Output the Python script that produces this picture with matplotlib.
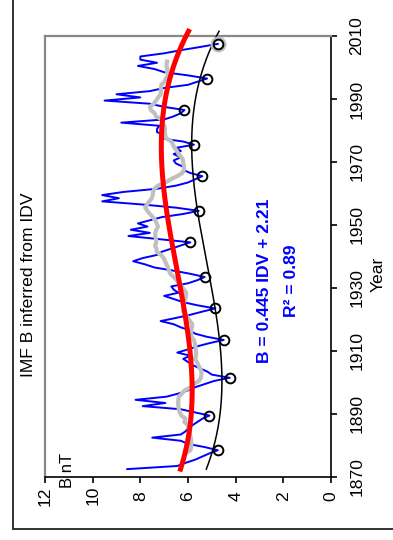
import numpy as np
import matplotlib
matplotlib.use('Agg')
import matplotlib.pyplot as plt
from matplotlib.lines import Line2D

plt.rcParams['font.family'] = ['Liberation Sans', 'DejaVu Sans']

# ---- data -------------------------------------------------------------
years = list(range(1872, 2008))
b_idv = [
    8.55, 6.45, 6.10, 5.70, 5.40, 5.10, 4.75, 5.30, 6.00, 6.30,   # 1872-1881
    7.50, 6.30, 6.10, 6.00, 5.80, 5.60, 5.40, 5.10, 5.70, 6.30,   # 1882-1891
    7.90, 6.95, 8.20, 6.90, 6.40, 6.00, 5.70, 5.30, 4.90, 4.25,   # 1892-1901
    5.00, 5.20, 5.50, 5.80, 6.00, 6.20, 5.90, 6.45, 6.00, 5.60,   # 1902-1911
    5.10, 4.50, 5.20, 5.70, 5.90, 6.30, 6.60, 7.15, 6.50, 5.90,   # 1912-1921
    5.40, 4.85, 5.60, 6.20, 6.60, 7.00, 6.40, 6.60, 6.70, 6.00,   # 1922-1931
    5.60, 5.30, 5.90, 6.60, 7.40, 7.80, 8.30, 7.90, 7.30, 7.10,   # 1932-1941
    6.70, 6.30, 5.90, 7.20, 8.50, 7.60, 8.40, 7.70, 8.10, 7.60,   # 1942-1951
    7.10, 6.20, 5.55, 6.50, 7.90, 9.60, 8.90, 9.60, 8.70, 7.30,   # 1952-1961
    6.50, 6.00, 5.70, 5.40, 5.90, 6.20, 6.20, 6.50, 6.60, 6.30,   # 1962-1971
    6.60, 6.30, 6.50, 5.75, 6.20, 7.15, 7.00, 7.30, 7.30, 7.20,   # 1972-1981
    8.80, 7.00, 6.60, 6.30, 6.15, 7.00, 7.60, 9.50, 8.00, 9.00,   # 1982-1991
    7.60, 7.00, 6.00, 5.60, 5.20, 6.00, 7.00, 7.40, 8.10, 7.30,   # 1992-2001
    8.00, 8.00, 7.00, 6.30, 5.50, 4.75,                           # 2002-2007
]
min_years = [1878, 1889, 1901, 1913, 1923, 1933, 1944, 1954, 1965, 1975, 1986, 1996, 2007]

# smooth trend of all years (red) and of the minima (black)
red_years = [1872.5, 1891.3, 1900.8, 1909.3, 1922.0, 1935.7, 1945.2, 1958.0, 1968.5, 1979.1, 1989.7, 2000.3, 2010.8]
red_vals = [6.39, 5.83, 5.72, 5.83, 6.10, 6.53, 6.87, 7.08, 7.10, 7.00, 6.80, 6.53, 6.18]
blk_years = [1872.5, 1878.6, 1889.5, 1900.8, 1913.3, 1923.3, 1933.6, 1940.5, 1944.5, 1954.4,
             1964.3, 1975.4, 1988.1, 1996.2, 2010.8]
blk_vals = [5.37, 4.93, 4.62, 4.39, 4.53, 4.85, 5.31, 5.41, 5.48, 5.62,
            5.76, 5.76, 5.62, 5.34, 4.92]

b_ticks = [0, 2, 4, 6, 8, 10, 12]
year_ticks = [1870, 1890, 1910, 1930, 1950, 1970, 1990, 2010]

title = 'IMF B inferred from IDV'
eq_text = 'B = 0.445 IDV + 2.21'
r2_text = 'R² = 0.89'

# ---- derived series -----------------------------------------------------
t = np.array(years) + 0.5
b = np.array(b_idv)
win = 11
gray = np.convolve(b, np.ones(win) / win, mode='valid')
t_gray = t[win // 2: len(t) - win // 2]

tc = 1940.0
coef_red = np.polyfit(np.array(red_years) - tc, red_vals, 3)
coef_blk = np.polyfit(np.array(blk_years) - tc, blk_vals, 3)
idx_min = [years.index(y) for y in min_years]
t_min = t[idx_min]
b_min = b[idx_min]
tt = np.linspace(t[0], 2011.5, 300)

# ---- figure -------------------------------------------------------------
W, H = 393, 540
fig = plt.figure(figsize=(W / 100, H / 100), dpi=100)
L, R, T, Bt = 45, 331, 36, 477
ax = fig.add_axes([L / W, 1 - Bt / H, (R - L) / W, (Bt - T) / H])

ax.plot(b, t, color='#0000ff', lw=1.4, zorder=2)
ax.plot(gray, t_gray, color='#c0c0c0', lw=3.0, zorder=3, solid_capstyle='butt')
ax.plot(np.polyval(coef_red, tt - tc), tt, color='#ff0000', lw=3.6, zorder=4, clip_on=False)
ax.plot(np.polyval(coef_blk, tt - tc), tt, color='black', lw=1.1, zorder=5, clip_on=False)
ax.plot([b[-1]], [t[-1]], 'o', mfc='none', mec='#c0c0c0', ms=9, mew=2.5, zorder=5)
ax.plot(b_min, t_min, 'o', mfc='none', mec='black', ms=7, mew=1.4, zorder=6)

ax.set_xlim(12, 0)
ax.set_ylim(1870, 2010)
ax.set_xticks(b_ticks)
ax.set_xticklabels([str(v) for v in b_ticks], rotation=90, va='center', fontsize=12.6)
ax.yaxis.tick_right()
ax.set_yticks(year_ticks)
ax.set_yticklabels([str(v) for v in year_ticks], rotation=90, ha='center', va='center', fontsize=12.6)
ax.tick_params(axis='x', direction='out', length=4.5, width=1.2, pad=9)
ax.tick_params(axis='y', direction='out', length=4.5, width=1.2, pad=14)

for s in ['left', 'top']:
    ax.spines[s].set_color('#888888')
    ax.spines[s].set_linewidth(1.6)
for s in ['bottom', 'right']:
    ax.spines[s].set_color('black')
    ax.spines[s].set_linewidth(1.2)

ax.text(2.77, 1932.2, eq_text, rotation=90, ha='center', va='center',
        color='#0000ff', fontsize=12.6, fontweight='bold')
ax.text(1.64, 1932.2, r2_text, rotation=90, ha='center', va='center',
        color='#0000ff', fontsize=12.6, fontweight='bold')

fig.text(29 / W, 1 - 285 / H, title, rotation=90, ha='center', va='center', fontsize=12.6)
fig.text(378 / W, 1 - 274 / H, 'Year', rotation=90, ha='center', va='center', fontsize=12.6)
fig.text(67 / W, 1 - 488 / H, 'B nT', rotation=90, ha='center', va='bottom', fontsize=12.0)

fig.add_artist(Line2D([13 / W, 13 / W], [1 - 529 / H, 1.0], transform=fig.transFigure,
                      color='#333333', lw=1.4))
fig.add_artist(Line2D([13 / W, 1.0], [1 - 529 / H, 1 - 529 / H], transform=fig.transFigure,
                      color='#333333', lw=1.4))

fig.savefig('out.png', dpi=100)
